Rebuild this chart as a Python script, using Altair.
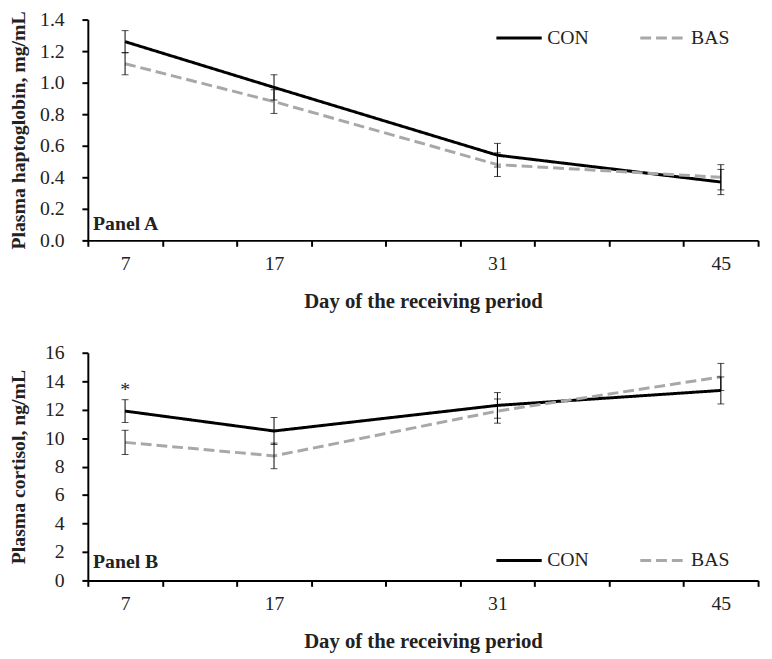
import altair as alt
import pandas as pd

# ---- data ----
slots = [0, 2, 5, 8]            # category slot of each sampling day (9 slots on the axis)
days = ["7", "17", "31", "45"]
n_slots = 9

hapto_con = [1.26, 0.97, 0.54, 0.37]
hapto_con_se = [0.07, 0.08, 0.075, 0.08]
hapto_bas = [1.12, 0.88, 0.48, 0.40]
hapto_bas_se = [0.07, 0.075, 0.075, 0.08]

cort_con = [11.9, 10.5, 12.3, 13.35]
cort_con_se = [0.8, 0.95, 0.9, 0.95]
cort_bas = [9.7, 8.75, 11.9, 14.3]
cort_bas_se = [0.85, 0.9, 0.85, 0.95]

series = ["CON", "BAS"]
colors = ["#000000", "#a8a8a8"]
dashes = [[1, 0], [11, 5]]

FONT = "Liberation Serif"
FS = 20
W = 680
TXT = "#222222"


def long_df(con, con_se, bas, bas_se):
    rows = []
    for s, vals, ses in (("CON", con, con_se), ("BAS", bas, bas_se)):
        for sl, d, v, e in zip(slots, days, vals, ses):
            rows.append({"pos": sl + 0.5, "day": d, "series": s, "value": v,
                         "lo": v - e, "hi": v + e})
    return pd.DataFrame(rows)


label_expr = "".join(f"datum.value=={sl}?'{d}':" for sl, d in zip(slots, days)) + "''"


def panel(con, con_se, bas, bas_se, ymax, ystep, yfmt, ytitle, tpad, label, label_y,
          height, legend_y, star_y=None):
    df = long_df(con, con_se, bas, bas_se)
    base = alt.Chart(df)
    xenc = alt.X("pos:Q", scale=alt.Scale(domain=[0, n_slots], nice=False, zero=False),
                 axis=alt.Axis(values=list(range(n_slots + 1)), labelExpr=label_expr,
                               labelOffset={"condition": {"test": f"datum.value < {n_slots}",
                                                          "value": W / n_slots / 2},
                                            "value": 0},
                               labelFlush=False, labelOverlap=False, grid=False,
                               tickCount=n_slots + 1,
                               title="Day of the receiving period", titleFontSize=21,
                               titlePadding=17, labelPadding=8))
    yvals = [round(i * ystep, 4) for i in range(int(round(ymax / ystep)) + 1)]
    yenc = alt.Y("value:Q", scale=alt.Scale(domain=[0, ymax], nice=False),
                 axis=alt.Axis(values=yvals, tickCount=len(yvals), format=yfmt, grid=False,
                               title=ytitle, titleFontSize=20, titlePadding=tpad,
                               labelPadding=18, labelOverlap=False, labelFlush=False))
    leg = alt.Legend(title=None, orient="none", legendX=413, legendY=legend_y,
                     direction="horizontal", symbolType="stroke", symbolSize=2116,
                     symbolStrokeWidth=3, labelFont=FONT, labelFontSize=FS,
                     labelColor=TXT, columnPadding=45, labelOffset=4, padding=0)
    lines = base.mark_line(strokeWidth=3, strokeCap="butt").encode(
        x=xenc, y=yenc,
        color=alt.Color("series:N", scale=alt.Scale(domain=series, range=colors), legend=leg),
        strokeDash=alt.StrokeDash("series:N", scale=alt.Scale(domain=series, range=dashes),
                                  legend=leg),
        order=alt.Order("series:N"),
    )
    rules = base.mark_rule(color="black", strokeWidth=1).encode(
        x="pos:Q", y="lo:Q", y2="hi:Q")
    caps = base.transform_fold(["lo", "hi"], as_=["end", "v"]).mark_tick(
        orient="horizontal", size=7, thickness=1, color="black").encode(
        x="pos:Q", y="v:Q")
    ann = pd.DataFrame({"pos": [0.07], "value": [label_y], "text": [label]})
    lab = alt.Chart(ann).mark_text(align="left", baseline="alphabetic", font=FONT,
                                   fontSize=FS, fontWeight="bold", color=TXT).encode(
        x="pos:Q", y="value:Q", text="text:N")
    layers = [lines, rules, caps, lab]
    if star_y is not None:
        st = pd.DataFrame({"pos": [slots[0] + 0.5], "value": [star_y], "text": ["*"]})
        layers.append(alt.Chart(st).mark_text(font=FONT, fontSize=FS, color=TXT,
                                              baseline="middle").encode(
            x="pos:Q", y="value:Q", text="text:N"))
    return alt.layer(*layers).properties(width=W, height=height)


pa = panel(hapto_con, hapto_con_se, hapto_bas, hapto_bas_se, 1.4, 0.2, ".1f",
           "Plasma haptoglobin, mg/mL", 11, "Panel A", 0.065, 224, -6)
pb = panel(cort_con, cort_con_se, cort_bas, cort_bas_se, 16, 2, "d",
           "Plasma cortisol, ng/mL", 16, "Panel B", 0.85, 231, 186, star_y=13.4)

chart = alt.vconcat(pa, pb, spacing=32).resolve_scale(
    color="independent", strokeDash="independent"
).resolve_legend(
    color="independent", strokeDash="independent"
).properties(
    padding={"left": 0, "top": -3, "right": 5, "bottom": 5},
    background="white",
).configure_view(strokeWidth=0).configure_axis(
    labelFont=FONT, labelFontSize=FS, labelColor=TXT,
    titleFont=FONT, titleFontWeight="bold", titleColor=TXT,
    domainColor="black", domainWidth=2, tickColor="black", tickWidth=2, tickSize=6,
)

chart.save("out.html", embed_options={"renderer": "svg", "actions": False})
